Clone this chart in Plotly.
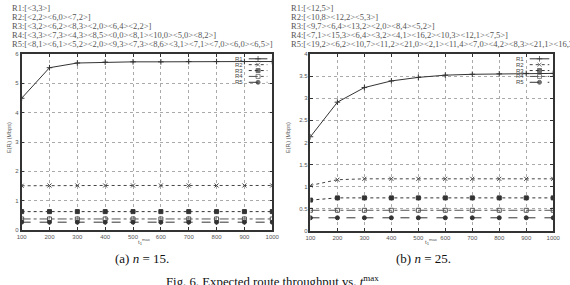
import plotly.graph_objects as go

t_max = [100, 200, 300, 400, 500, 600, 700, 800, 900, 1000]
series_names = ["R1", "R2", "R3", "R4", "R5"]

# (a) n = 15
a_R1 = [4.49, 5.53, 5.69, 5.72, 5.73, 5.73, 5.74, 5.74, 5.74, 5.74]
a_R2 = [1.51, 1.52, 1.52, 1.52, 1.52, 1.52, 1.52, 1.52, 1.52, 1.52]
a_R3 = [0.63, 0.63, 0.63, 0.63, 0.63, 0.63, 0.63, 0.63, 0.63, 0.63]
a_R4 = [0.38, 0.38, 0.38, 0.38, 0.38, 0.38, 0.38, 0.38, 0.38, 0.38]
a_R5 = [0.27, 0.27, 0.27, 0.27, 0.27, 0.27, 0.27, 0.27, 0.27, 0.27]

# (b) n = 25
b_R1 = [2.13, 2.91, 3.24, 3.39, 3.47, 3.52, 3.54, 3.55, 3.56, 3.56]
b_R2 = [1.03, 1.16, 1.18, 1.18, 1.18, 1.18, 1.18, 1.18, 1.18, 1.18]
b_R3 = [0.70, 0.75, 0.75, 0.75, 0.75, 0.75, 0.75, 0.75, 0.75, 0.75]
b_R4 = [0.47, 0.47, 0.47, 0.47, 0.47, 0.47, 0.47, 0.47, 0.47, 0.47]
b_R5 = [0.30, 0.30, 0.30, 0.30, 0.30, 0.30, 0.30, 0.30, 0.30, 0.30]

routes_a = ["R1:[<3,3>]",
            "R2:[<2,2><6,0><7,2>]",
            "R3:[<3,2><6,2><8,3><2,0><6,4><2,2>]",
            "R4:[<3,3><7,3><4,3><8,5><0,0><8,1><10,0><5,0><8,2>]",
            "R5:[<8,1><6,1><5,2><2,0><9,3><7,3><8,6><3,1><7,1><7,0><6,0><6,5>]"]
routes_b = ["R1:[<12,5>]",
            "R2:[<10,8><12,2><5,3>]",
            "R3:[<9,7><6,4><13,2><2,0><8,4><5,2>]",
            "R4:[<7,1><15,3><6,4><3,2><4,1><16,2><10,3><12,1><7,5>]",
            "R5:[<19,2><6,2><10,7><11,2><21,0><2,1><11,4><7,0><4,2><8,3><21,1><16,3>]"]

styles = {
    "R1": dict(dash="solid", symbol="cross-thin-open", color="#333333"),
    "R2": dict(dash="dot", symbol="x-thin-open", color="#444444"),
    "R3": dict(dash="dot", symbol="square", color="#333333"),
    "R4": dict(dash="dashdot", symbol="square-open", color="#555555"),
    "R5": dict(dash="dash", symbol="circle", color="#333333"),
}

W, H = 570, 285
fig = go.Figure()

def add_panel(ys, xa, ya):
    for name, y in zip(series_names, ys):
        s = styles[name]
        fig.add_trace(go.Scatter(
            x=t_max, y=y, mode="lines+markers", name=name, showlegend=False,
            xaxis=xa, yaxis=ya,
            line=dict(color=s["color"], width=1, dash=s["dash"]),
            marker=dict(symbol=s["symbol"], size=4, color=s["color"],
                        line=dict(color=s["color"], width=1)),
        ))

add_panel([a_R1, a_R2, a_R3, a_R4, a_R5], "x", "y")
add_panel([b_R1, b_R2, b_R3, b_R4, b_R5], "x2", "y2")

# manual compact legends on an overlay pixel axis
legend_rows = [57, 63, 69, 75, 81]
for (lab_x, s0, s1) in [(245, 249, 268), (532, 536, 556)]:
    for name, yy in zip(series_names, legend_rows):
        s = styles[name]
        fig.add_trace(go.Scatter(
            x=[s0, (s0 + s1) / 2, s1], y=[yy, yy, yy], mode="lines+markers",
            showlegend=False, xaxis="x3", yaxis="y3", hoverinfo="skip",
            line=dict(color=s["color"], width=1, dash=s["dash"]),
            marker=dict(symbol=s["symbol"], size=[0, 4, 0], color=s["color"],
                        line=dict(color=s["color"], width=1)),
        ))
        fig.add_annotation(x=lab_x, y=yy, xref="x3", yref="y3", text=name,
                           showarrow=False, xanchor="right", yanchor="middle",
                           font=dict(size=6, color="#444", family="Liberation Sans"))

axis_common = dict(
    showline=True, mirror="ticks", linecolor="#333", linewidth=1.5,
    showgrid=True, gridcolor="#aaa", griddash="dot", gridwidth=0.6,
    ticks="inside", ticklen=3, tickcolor="#333", zeroline=False,
    tickfont=dict(size=6, color="#555", family="Liberation Sans"),
)

fig.update_layout(
    width=W, height=H, margin=dict(l=0, r=0, t=0, b=0),
    plot_bgcolor="rgba(0,0,0,0)", paper_bgcolor="white", showlegend=False,
    xaxis=dict(domain=[17 / W, 273 / W], range=[100, 1000], tickvals=t_max,
               anchor="y", **axis_common),
    yaxis=dict(domain=[1 - 232 / H, 1 - 52 / H], range=[0, 6], dtick=1,
               anchor="x", **axis_common),
    xaxis2=dict(domain=[312 / W, 560 / W], range=[100, 1000], tickvals=t_max,
                anchor="y2", **axis_common),
    yaxis2=dict(domain=[1 - 233 / H, 1 - 52 / H], range=[0, 4], dtick=0.5,
                anchor="x2", **axis_common),
    xaxis3=dict(domain=[0, 1], range=[0, W], visible=False, anchor="y3", fixedrange=True),
    yaxis3=dict(domain=[0, 1], range=[H, 0], visible=False, anchor="x3", fixedrange=True),
)

serif = "Liberation Serif"
for lines, x0 in [(routes_a, 5), (routes_b, 290)]:
    for i, txt in enumerate(lines):
        fig.add_annotation(x=x0, y=5 + i * 9.1, xref="x3", yref="y3", text=txt,
                           showarrow=False, xanchor="left", yanchor="middle",
                           font=dict(size=8.5, color="#555", family=serif))

# axis titles
for xx in (4, 289):
    fig.add_annotation(x=xx, y=137, xref="x3", yref="y3",
                       text="E(R<sub>i</sub>) (Mbps)", textangle=-90, showarrow=False,
                       font=dict(size=5.5, color="#555", family="Liberation Sans"))
for xx in (142, 436):
    fig.add_annotation(x=xx, y=244, xref="x3", yref="y3",
                       text="t<sub>1</sub><sup>max</sup>", showarrow=False,
                       font=dict(size=6, color="#555", family="Liberation Sans"))

fig.add_annotation(x=140, y=261, xref="x3", yref="y3", text="(a) <i>n</i> = 15.",
                   showarrow=False, font=dict(size=13, color="#111", family=serif))
fig.add_annotation(x=427, y=261, xref="x3", yref="y3", text="(b) <i>n</i> = 25.",
                   showarrow=False, font=dict(size=13, color="#111", family=serif))
fig.add_annotation(x=162, y=284, xref="x3", yref="y3",
                   text="Fig. 6. Expected route throughput vs. <i>t</i><sup>max</sup>",
                   showarrow=False, xanchor="left", yanchor="middle",
                   font=dict(size=12.8, color="#111", family=serif))

fig.write_html("out.html", config={"displayModeBar": False})
